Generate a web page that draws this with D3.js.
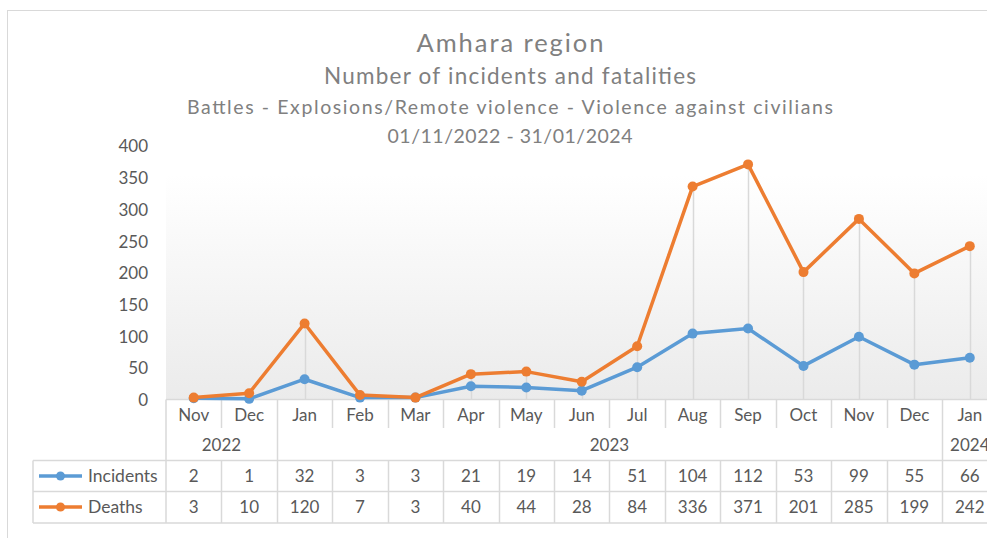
<!DOCTYPE html>
<html><head><meta charset="utf-8">
<script src="https://cdn.jsdelivr.net/npm/d3@7"></script>
<style>body{margin:0;background:#fff}svg{display:block}text{font-family:Lato,"Open Sans",sans-serif}</style>
</head><body><svg id="c" width="987" height="538"></svg>
<script>
const months = ["Nov","Dec","Jan","Feb","Mar","Apr","May","Jun","Jul","Aug","Sep","Oct","Nov","Dec","Jan"];
const years = [{label:"2022", from:0, to:2},{label:"2023", from:2, to:14},{label:"2024", from:14, to:15}];
const incidents = [2,1,32,3,3,21,19,14,51,104,112,53,99,55,66];
const deaths = [3,10,120,7,3,40,44,28,84,336,371,201,285,199,242];
const yTicks = [0,50,100,150,200,250,300,350,400];
const titles = ["Amhara region","Number of incidents and fatalities","Battles - Explosions/Remote violence - Violence against civilians","01/11/2022 - 31/01/2024"];
const series = [{name:"Incidents", values:incidents, color:"#5B9BD5"},{name:"Deaths", values:deaths, color:"#ED7D31"}];

const svg = d3.select("#c");
const L = 166, R = 997.5, T = 146, B = 399.5;
const x = d3.scaleBand().domain(d3.range(months.length)).range([L, R]);
const y = d3.scaleLinear().domain([0, 400]).range([B, T]);
const grid = "#d9d9d9", txt = "#595959";

// chart border
svg.append("rect").attr("x",7.5).attr("y",10.5).attr("width",1010).attr("height",540).attr("fill","#fff").attr("stroke",grid);

// gradient plot background
const defs = svg.append("defs");
const g = defs.append("linearGradient").attr("id","pg").attr("x1",0).attr("y1",0).attr("x2",0).attr("y2",1);
g.append("stop").attr("offset","0%").attr("stop-color","#ffffff");
g.append("stop").attr("offset","100%").attr("stop-color","#ebebeb");
svg.append("rect").attr("x",L).attr("y",y(355)).attr("width",R-L).attr("height",B-y(355)).attr("fill","url(#pg)");

// titles
const tx = 510;
const tsz = [25.5,22.5,19.5,19.5], ty = [52,84,114,143], tw = [187,372,646,245];
titles.forEach((t,i)=>svg.append("text").attr("x",tx).attr("y",ty[i]).attr("text-anchor","middle")
  .attr("font-size",tsz[i]).attr("fill","#808080").attr("textLength",tw[i]).attr("lengthAdjust","spacing").text(t));

// y axis
const ya = svg.append("g").attr("transform",`translate(${L-18},0)`)
  .call(d3.axisLeft(y).tickValues(yTicks).tickSize(0).tickPadding(0));
ya.select(".domain").remove();
ya.selectAll("text").attr("font-size",17).attr("fill",txt).attr("font-family","Lato,sans-serif").attr("dy","0.35em");

// drop lines
const cx = i => x(i) + x.bandwidth()/2;
svg.append("g").selectAll("line").data(months).join("line")
  .attr("x1",(d,i)=>Math.round(cx(i))+0.5).attr("x2",(d,i)=>Math.round(cx(i))+0.5)
  .attr("y1",(d,i)=>y(Math.max(incidents[i],deaths[i]))).attr("y2",B)
  .attr("stroke",grid).attr("stroke-width",1.5);

// table lines
const tl = svg.append("g").attr("stroke",grid).attr("stroke-width",1.5);
tl.append("line").attr("x1",L).attr("x2",1000).attr("y1",B).attr("y2",B);
[460.5,491.5,523].forEach(yy=>tl.append("line").attr("x1",33).attr("x2",1000).attr("y1",yy).attr("y2",yy));
tl.append("line").attr("x1",33).attr("x2",33).attr("y1",460.5).attr("y2",523);
tl.append("line").attr("x1",L).attr("x2",L).attr("y1",B).attr("y2",523);
const yearBounds = new Set(years.map(d=>d.from));
d3.range(1, months.length+1).forEach(i=>{
  const xx = Math.round(x(i) ?? R) + 0.5;
  if (i < months.length && !yearBounds.has(i)) tl.append("line").attr("x1",xx).attr("x2",xx).attr("y1",B).attr("y2",428);
  else if (i < months.length) tl.append("line").attr("x1",xx).attr("x2",xx).attr("y1",B).attr("y2",460.5);
  tl.append("line").attr("x1",xx).attr("x2",xx).attr("y1",460.5).attr("y2",523);
});

// month labels
svg.append("g").selectAll("text").data(months).join("text")
  .attr("x",(d,i)=>cx(i)).attr("y",421).attr("text-anchor","middle").attr("font-size",17).attr("fill",txt).text(d=>d);
// year labels
svg.append("g").selectAll("text").data(years).join("text")
  .attr("x",d=>(x(d.from) + (d.to < months.length ? x(d.to) : R))/2).attr("y",451)
  .attr("text-anchor","middle").attr("font-size",17).attr("fill",txt).text(d=>d.label);

// data rows + legend
series.forEach((s,si)=>{
  const ry = 482 + si*31;
  svg.append("g").selectAll("text").data(s.values).join("text")
    .attr("x",(d,i)=>cx(i)).attr("y",ry).attr("text-anchor","middle").attr("font-size",17).attr("fill",txt).text(d=>d);
  const ly = 476 + si*31;
  svg.append("line").attr("x1",39).attr("x2",82).attr("y1",ly).attr("y2",ly).attr("stroke",s.color).attr("stroke-width",3.5);
  svg.append("circle").attr("cx",60.5).attr("cy",ly).attr("r",4.5).attr("fill",s.color);
  svg.append("text").attr("x",88).attr("y",ry).attr("font-size",17.5).attr("fill",txt).text(s.name);
});

// lines
const line = d3.line().x((d,i)=>cx(i)).y(d=>y(d));
series.forEach(s=>{
  svg.append("path").datum(s.values).attr("d",line).attr("fill","none").attr("stroke",s.color)
    .attr("stroke-width",3.5).attr("stroke-linejoin","round");
  svg.append("g").selectAll("circle").data(s.values).join("circle")
    .attr("cx",(d,i)=>cx(i)).attr("cy",d=>y(d)).attr("r",5).attr("fill",s.color);
});
</script></body></html>
